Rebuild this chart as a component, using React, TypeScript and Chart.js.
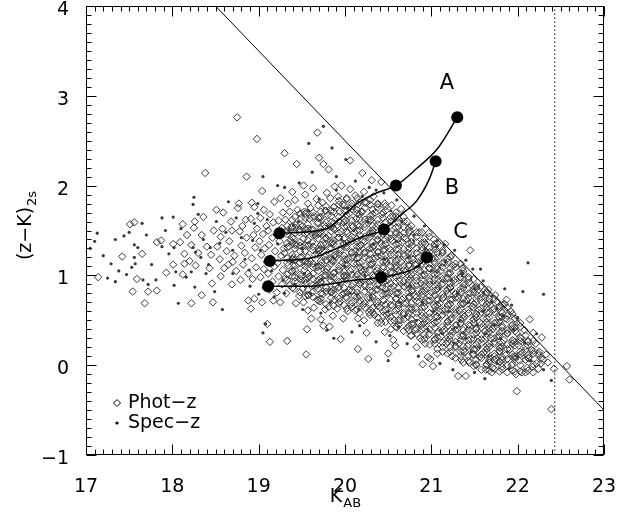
import { useEffect, useRef } from 'react';
import { Chart, registerables } from 'chart.js';
Chart.register(...registerables);

const xTicks = [17, 18, 19, 20, 21, 22, 23];
const yTicks = [-1, 0, 1, 2, 3, 4];

const photZ: [number, number][] = [
  [17.14,0.98],[17.42,1.21],[17.51,1.57],[17.56,1.59],[17.54,0.82],[17.59,0.96],[17.65,1.24],[17.68,0.69],[17.72,0.82],[17.82,0.83],
  [17.82,1.37],[17.87,1.39],[17.93,1.03],[18.01,1.12],[18.01,1.35],[18.09,1.37],[18.12,1.57],[18.12,1.01],[18.14,1.24],[18.14,1.13],
  [18.17,1.45],[18.22,1.34],[18.22,0.69],[18.25,1.53],[18.26,1.60],[18.27,1.11],[18.34,1.45],[18.34,0.78],[18.36,1.65],[18.38,2.14],
  [18.45,1.23],[18.46,0.91],[18.47,0.70],[18.51,1.73],[18.56,1.43],[18.56,0.99],[18.58,1.52],[18.59,1.70],[18.68,1.60],[18.69,1.50],
  [18.69,0.90],[18.75,2.76],[18.76,1.75],[18.77,1.80],[18.78,1.49],[18.79,0.95],[18.86,2.10],[18.88,0.72],[18.52,1.32],[18.55,1.18],
  [18.60,1.08],[18.63,1.27],[18.66,1.38],[18.70,1.15],[18.72,1.22],[18.74,1.05],[18.80,1.33],[18.82,1.12],[18.84,1.25],[18.86,1.42],
  [18.88,1.02],[18.40,1.32],[18.43,1.08],[18.30,1.25],[18.48,1.50],[18.20,1.16],[18.85,1.62],[18.81,1.55],[18.65,1.12],
  [18.91,0.63],[18.95,0.74],[18.93,0.96],[18.97,1.09],[18.92,1.19],[18.96,1.31],[18.94,1.45],[18.98,1.52],[18.91,1.63],[18.95,1.76],[18.92,1.81],
  [19.04,0.70],[19.08,0.86],[19.02,0.98],[19.06,1.07],[19.09,1.15],[19.03,1.23],[19.07,1.30],[19.01,1.38],[19.05,1.46],[19.09,1.55],[19.02,1.64],[19.06,1.73],[19.04,1.94],[18.98,2.52],
  [19.10,0.46],[19.13,0.26],[19.17,0.72],[19.12,0.84],[19.16,0.93],[19.11,1.02],[19.18,1.10],[19.14,1.19],[19.19,1.27],[19.12,1.34],[19.16,1.42],[19.11,1.50],[19.17,1.59],[19.13,1.68],[19.18,1.82],
  [19.25,0.70],[19.21,0.81],[19.27,0.90],[19.23,0.99],[19.28,1.06],[19.22,1.14],[19.26,1.22],[19.29,1.30],[19.24,1.38],[19.21,1.45],[19.27,1.53],[19.23,1.61],[19.28,1.70],[19.25,1.86],
  [19.33,0.27],[19.32,0.80],[19.36,0.89],[19.31,0.97],[19.38,1.04],[19.34,1.11],[19.39,1.18],[19.30,1.25],[19.35,1.32],[19.37,1.39],[19.33,1.46],[19.38,1.54],[19.31,1.62],[19.36,1.71],[19.34,1.80],[19.39,1.93],[19.30,2.36],
  [19.43,0.69],[19.47,0.77],[19.41,0.85],[19.45,0.92],[19.49,0.99],[19.42,1.06],[19.46,1.13],[19.40,1.20],[19.48,1.27],[19.44,1.34],[19.41,1.41],[19.47,1.48],[19.43,1.56],[19.49,1.64],[19.45,1.73],[19.42,1.84],[19.44,2.24],
  [19.55,0.12],[19.56,0.40],[19.57,0.61],[19.52,0.70],[19.58,0.78],[19.51,0.85],[19.55,0.92],[19.59,0.99],[19.53,1.06],[19.57,1.13],[19.50,1.20],[19.54,1.27],[19.58,1.34],[19.52,1.41],[19.56,1.48],[19.51,1.55],[19.59,1.63],[19.53,1.71],[19.57,1.80],[19.54,1.90],[19.52,2.00],
  [19.61,0.52],[19.64,0.64],[19.68,0.73],[19.62,0.81],[19.66,0.88],[19.69,0.95],[19.63,1.02],[19.67,1.09],[19.60,1.16],[19.65,1.23],[19.69,1.30],[19.62,1.37],[19.66,1.44],[19.61,1.51],[19.68,1.58],[19.64,1.66],[19.60,1.75],[19.67,1.85],[19.63,1.97],[19.68,2.59],
  [19.75,0.44],[19.72,0.51],[19.77,0.62],[19.71,0.71],[19.74,0.79],[19.78,0.86],[19.72,0.93],[19.76,1.00],[19.79,1.07],[19.73,1.14],[19.77,1.21],[19.70,1.28],[19.75,1.35],[19.78,1.42],[19.72,1.49],[19.76,1.56],[19.71,1.64],[19.77,1.72],[19.74,1.81],[19.79,1.92],[19.75,2.24],[19.70,2.31],
  [19.82,0.43],[19.86,0.55],[19.81,0.65],[19.88,0.73],[19.84,0.81],[19.89,0.88],[19.83,0.95],[19.87,1.02],[19.80,1.09],[19.85,1.16],[19.89,1.23],[19.82,1.30],[19.86,1.37],[19.81,1.44],[19.88,1.51],[19.84,1.59],[19.80,1.67],[19.87,1.76],[19.83,1.86],[19.88,1.99],[19.81,2.18],
  [19.95,0.29],[19.98,0.52],[19.91,0.63],[19.94,0.71],[19.97,0.79],[19.92,0.86],[19.96,0.93],[19.99,1.00],[19.93,1.07],[19.97,1.14],[19.90,1.21],[19.95,1.28],[19.98,1.35],[19.92,1.42],[19.96,1.49],[19.91,1.56],[19.99,1.63],[19.94,1.71],[19.97,1.79],[19.92,1.88],[19.96,2.00],
  [20.03,0.60],[20.07,0.68],[20.01,0.76],[20.05,0.84],[20.09,0.91],[20.02,0.98],[20.06,1.05],[20.00,1.12],[20.04,1.19],[20.08,1.26],[20.02,1.33],[20.07,1.40],[20.03,1.47],[20.09,1.54],[20.01,1.61],[20.05,1.69],[20.08,1.77],[20.02,1.86],[20.06,1.96],[20.06,2.28],
  [20.15,0.18],[20.15,0.52],[20.12,0.61],[20.17,0.69],[20.11,0.77],[20.14,0.85],[20.18,0.92],[20.13,0.99],[20.19,1.06],[20.10,1.13],[20.16,1.20],[20.12,1.27],[20.18,1.34],[20.14,1.41],[20.11,1.48],[20.17,1.55],[20.13,1.63],[20.19,1.71],[20.15,1.79],[20.12,1.89],
  [20.27,0.07],[20.25,0.36],[20.22,0.50],[20.28,0.59],[20.21,0.67],[20.26,0.75],[20.29,0.83],[20.23,0.90],[20.27,0.97],[20.20,1.04],[20.24,1.11],[20.28,1.18],[20.22,1.25],[20.26,1.32],[20.21,1.39],[20.29,1.46],[20.23,1.54],[20.27,1.62],[20.20,1.71],[20.25,1.81],[20.22,1.93],[20.20,2.14],
  [20.38,0.47],[20.30,0.61],[20.34,0.56],[20.37,0.69],[20.32,0.76],[20.36,0.84],[20.39,0.91],[20.33,0.98],[20.37,1.05],[20.31,1.12],[20.35,1.19],[20.39,1.26],[20.33,1.33],[20.38,1.40],[20.32,1.47],[20.36,1.54],[20.30,1.62],[20.35,1.70],[20.38,1.79],[20.33,1.88],[20.31,2.06],
  [20.46,0.37],[20.42,0.47],[20.48,0.56],[20.41,0.64],[20.45,0.72],[20.49,0.80],[20.43,0.87],[20.47,0.94],[20.40,1.01],[20.44,1.08],[20.48,1.15],[20.42,1.22],[20.46,1.29],[20.41,1.36],[20.49,1.43],[20.44,1.51],[20.47,1.59],[20.43,1.68],[20.46,1.80],[20.42,2.04],
  [20.50,0.13],[20.56,0.28],[20.58,0.22],[20.53,0.40],[20.57,0.50],[20.51,0.58],[20.55,0.66],[20.59,0.74],[20.52,0.81],[20.56,0.88],[20.50,0.95],[20.54,1.02],[20.58,1.09],[20.53,1.16],[20.57,1.23],[20.51,1.30],[20.55,1.38],[20.59,1.46],[20.52,1.55],[20.56,1.66],[20.54,1.78],
  [20.60,0.42],[20.64,0.50],[20.68,0.58],[20.62,0.66],[20.66,0.73],[20.61,0.80],[20.69,0.87],[20.63,0.94],[20.67,1.01],[20.60,1.08],[20.65,1.15],[20.69,1.22],[20.62,1.29],[20.66,1.37],[20.63,1.45],[20.68,1.54],[20.61,1.64],[20.65,1.74],
  [20.72,0.41],[20.76,0.33],[20.79,0.46],[20.73,0.54],[20.77,0.62],[20.71,0.69],[20.75,0.76],[20.78,0.83],[20.72,0.90],[20.76,0.97],[20.70,1.04],[20.74,1.11],[20.79,1.18],[20.73,1.25],[20.77,1.33],[20.71,1.41],[20.75,1.50],[20.72,1.60],
  [20.83,0.20],[20.87,0.30],[20.81,0.39],[20.85,0.47],[20.89,0.55],[20.82,0.63],[20.86,0.70],[20.80,0.77],[20.84,0.84],[20.88,0.91],[20.82,0.98],[20.87,1.05],[20.81,1.12],[20.85,1.20],[20.89,1.28],[20.83,1.37],[20.86,1.48],
  [20.90,0.01],[20.96,0.09],[20.99,0.07],[20.93,0.24],[20.97,0.34],[20.91,0.42],[20.95,0.50],[20.98,0.58],[20.92,0.65],[20.96,0.72],[20.90,0.79],[20.94,0.86],[20.98,0.93],[20.92,1.00],[20.97,1.08],[20.91,1.16],[20.95,1.25],[20.93,1.35],[20.97,1.47],
  [21.02,-0.01],[21.07,0.13],[21.04,0.28],[21.08,0.37],[21.01,0.45],[21.05,0.53],[21.09,0.60],[21.03,0.67],[21.07,0.74],[21.00,0.81],[21.04,0.88],[21.08,0.95],[21.02,1.02],[21.06,1.10],[21.01,1.19],[21.05,1.29],[21.03,1.40],
  [21.13,0.15],[21.17,0.24],[21.11,0.32],[21.15,0.40],[21.19,0.48],[21.12,0.55],[21.16,0.62],[21.10,0.69],[21.14,0.76],[21.18,0.83],[21.12,0.90],[21.17,0.97],[21.11,1.05],[21.15,1.14],[21.13,1.25],[21.16,1.35],
  [21.24,0.10],[21.28,0.20],[21.21,0.29],[21.25,0.37],[21.29,0.45],[21.23,0.52],[21.27,0.59],[21.20,0.66],[21.24,0.73],[21.28,0.80],[21.22,0.87],[21.26,0.94],[21.21,1.02],[21.25,1.11],[21.23,1.22],
  [21.31,-0.12],[21.35,0.06],[21.39,0.15],[21.32,0.24],[21.36,0.32],[21.30,0.40],[21.34,0.47],[21.38,0.54],[21.32,0.61],[21.37,0.68],[21.31,0.75],[21.35,0.82],[21.39,0.90],[21.33,0.98],[21.36,1.08],
  [21.40,-0.12],[21.44,0.03],[21.48,0.12],[21.42,0.21],[21.46,0.29],[21.41,0.37],[21.45,0.44],[21.49,0.51],[21.43,0.58],[21.47,0.65],[21.41,0.72],[21.45,0.80],[21.48,0.88],[21.43,0.98],[21.45,1.28],
  [21.52,0.00],[21.56,0.09],[21.50,0.18],[21.54,0.26],[21.58,0.34],[21.52,0.41],[21.56,0.48],[21.51,0.55],[21.55,0.62],[21.59,0.70],[21.53,0.78],[21.57,0.87],
  [21.63,-0.05],[21.67,0.05],[21.61,0.14],[21.65,0.22],[21.69,0.30],[21.62,0.38],[21.66,0.45],[21.60,0.52],[21.64,0.59],[21.68,0.67],[21.62,0.76],[21.66,0.84],
  [21.70,-0.08],[21.71,-0.03],[21.75,0.07],[21.79,0.16],[21.73,0.24],[21.77,0.32],[21.71,0.40],[21.75,0.47],[21.78,0.54],[21.72,0.62],[21.76,0.71],[21.74,0.78],
  [21.82,0.02],[21.86,0.11],[21.80,0.20],[21.84,0.28],[21.88,0.36],[21.82,0.44],[21.86,0.52],[21.81,0.60],[21.85,0.68],[21.87,0.73],
  [21.98,-0.10],[21.93,0.00],[21.97,0.09],[21.91,0.18],[21.95,0.27],[21.99,0.36],[21.93,0.44],[21.97,0.52],[21.92,0.60],
  [21.99,-0.29],[22.05,-0.08],[22.02,0.05],[22.06,0.14],[22.01,0.22],[22.04,0.30],[22.08,0.39],[22.03,0.47],
  [22.11,-0.03],[22.17,-0.02],[22.13,0.08],[22.16,0.17],[22.12,0.27],[22.18,0.36],[22.14,0.51],
  [22.22,0.02],[22.29,0.06],[22.25,0.15],[22.21,0.24],[22.28,0.31],
  [22.35,0.03],[22.33,0.12],[22.42,-0.04],[22.39,-0.49],[22.57,-0.01],[22.60,-0.16]
];

// dense core of the Phot-z cloud, read column by column: [K, list of colours]
const photCore: [number, number[]][] = [
  [19.33,[0.95,1.01,1.14,1.19,1.31,1.36,1.49,1.55]],
  [19.39,[0.86,0.99,1.05,1.18,1.23,1.36,1.42,1.54,1.62]],
  [19.42,[0.93,0.98,1.11,1.17,1.30,1.34,1.47,1.53,1.65]],
  [19.48,[0.81,0.96,1.01,1.14,1.20,1.33,1.37,1.51,1.56,1.69]],
  [19.54,[0.77,0.90,0.95,1.10,1.15,1.27,1.33,1.46,1.51,1.64,1.69]],
  [19.57,[0.78,0.84,0.97,1.02,1.15,1.20,1.33,1.39,1.52,1.57,1.70]],
  [19.63,[0.76,0.89,0.96,1.09,1.13,1.28,1.32,1.45,1.51,1.64,1.70]],
  [19.69,[0.72,0.85,0.90,1.05,1.10,1.23,1.27,1.41,1.46,1.59,1.64,1.78]],
  [19.72,[0.74,0.80,0.92,0.97,1.11,1.16,1.29,1.34,1.47,1.52,1.65,1.71]],
  [19.78,[0.68,0.82,0.87,1.00,1.04,1.17,1.23,1.35,1.41,1.54,1.59,1.72,1.77]],
  [19.84,[0.75,0.82,0.94,0.99,1.13,1.18,1.30,1.36,1.49,1.54,1.66,1.72]],
  [19.87,[0.66,0.80,0.84,0.98,1.03,1.16,1.22,1.35,1.39,1.52,1.58,1.71,1.76]],
  [19.93,[0.69,0.74,0.87,0.93,1.05,1.10,1.24,1.29,1.42,1.47,1.60,1.65,1.79,1.83]],
  [19.99,[0.67,0.80,0.86,0.99,1.04,1.18,1.22,1.35,1.41,1.54,1.59,1.72,1.78]],
  [20.02,[0.63,0.75,0.81,0.95,1.00,1.12,1.18,1.31,1.36,1.49,1.55,1.67,1.72,1.85]],
  [20.08,[0.65,0.70,0.83,0.88,1.01,1.07,1.20,1.25,1.38,1.43,1.56,1.61,1.74,1.80]],
  [20.14,[0.62,0.76,0.81,0.95,1.01,1.13,1.19,1.32,1.37,1.50,1.56,1.69,1.73,1.86]],
  [20.17,[0.58,0.72,0.77,0.90,0.95,1.09,1.14,1.26,1.32,1.45,1.50,1.63,1.68,1.82]],
  [20.23,[0.64,0.69,0.82,0.88,1.01,1.06,1.20,1.25,1.38,1.43,1.57,1.62,1.75,1.81]],
  [20.29,[0.56,0.69,0.75,0.88,0.93,1.06,1.12,1.24,1.30,1.43,1.48,1.61,1.66,1.79,1.84]],
  [20.32,[0.59,0.64,0.76,0.82,0.95,1.00,1.14,1.19,1.31,1.37,1.50,1.55,1.68,1.73]],
  [20.38,[0.53,0.66,0.71,0.84,0.89,1.02,1.08,1.21,1.26,1.39,1.44,1.57,1.62,1.76,1.80]],
  [20.44,[0.55,0.60,0.73,0.78,0.92,0.97,1.10,1.15,1.28,1.33,1.46,1.51,1.64,1.70]],
  [20.47,[0.48,0.62,0.67,0.80,0.85,0.99,1.03,1.17,1.22,1.35,1.40,1.53,1.59,1.72,1.77]],
  [20.53,[0.49,0.54,0.67,0.73,0.86,0.91,1.04,1.10,1.23,1.28,1.41,1.46,1.60,1.65]],
  [20.59,[0.43,0.56,0.61,0.74,0.80,0.93,0.98,1.11,1.16,1.29,1.35,1.48,1.53,1.66,1.70]],
  [20.62,[0.45,0.50,0.63,0.68,0.81,0.86,1.00,1.05,1.18,1.23,1.36,1.41,1.54,1.59]],
  [20.68,[0.38,0.51,0.56,0.69,0.75,0.88,0.93,1.06,1.11,1.24,1.29,1.42,1.47,1.60,1.65]],
  [20.74,[0.39,0.44,0.58,0.63,0.76,0.81,0.94,0.99,1.12,1.17,1.30,1.35,1.48,1.53]],
  [20.77,[0.33,0.46,0.51,0.64,0.69,0.83,0.88,1.01,1.06,1.19,1.24,1.37,1.42,1.55]],
  [20.83,[0.35,0.40,0.53,0.58,0.71,0.76,0.89,0.94,1.07,1.12,1.25,1.30,1.43,1.48]],
  [20.89,[0.28,0.40,0.45,0.59,0.64,0.77,0.82,0.95,1.00,1.13,1.18,1.31,1.36,1.48]],
  [20.92,[0.29,0.34,0.47,0.52,0.65,0.70,0.83,0.88,1.01,1.06,1.19,1.24,1.37,1.41]],
  [20.98,[0.23,0.35,0.40,0.53,0.58,0.72,0.77,0.90,0.95,1.08,1.13,1.26,1.31,1.43]],
  [21.04,[0.24,0.29,0.42,0.47,0.60,0.65,0.78,0.83,0.96,1.01,1.14,1.19,1.32,1.35]],
  [21.07,[0.18,0.31,0.36,0.49,0.54,0.67,0.72,0.85,0.90,1.02,1.07,1.20,1.25,1.36]],
  [21.13,[0.20,0.25,0.38,0.43,0.56,0.61,0.74,0.79,0.91,0.96,1.09,1.14,1.26,1.28]],
  [21.19,[0.13,0.26,0.31,0.44,0.49,0.62,0.67,0.80,0.85,0.97,1.02,1.15,1.19]],
  [21.22,[0.15,0.20,0.33,0.38,0.51,0.56,0.68,0.73,0.86,0.91,1.03,1.08,1.20]],
  [21.28,[0.08,0.21,0.26,0.39,0.44,0.57,0.62,0.75,0.79,0.92,0.96,1.09,1.13]],
  [21.34,[0.10,0.15,0.28,0.33,0.46,0.51,0.63,0.68,0.81,0.85,0.98,1.02,1.13]],
  [21.37,[0.03,0.16,0.21,0.34,0.39,0.52,0.56,0.69,0.74,0.86,0.91,1.02,1.05]],
  [21.43,[0.05,0.10,0.23,0.28,0.40,0.45,0.58,0.62,0.75,0.80,0.92,0.96]],
  [21.49,[-0.01,0.12,0.17,0.29,0.34,0.47,0.51,0.64,0.68,0.81,0.85,0.96]],
  [21.52,[0.01,0.06,0.18,0.23,0.36,0.40,0.53,0.57,0.70,0.74,0.86,0.88]],
  [21.58,[-0.05,0.08,0.12,0.25,0.29,0.42,0.46,0.59,0.63,0.75,0.79,0.88]],
  [21.64,[0.00,0.01,0.14,0.18,0.31,0.35,0.48,0.52,0.64,0.68,0.80,0.81]],
  [21.67,[-0.06,0.03,0.08,0.20,0.24,0.37,0.41,0.53,0.58,0.70,0.74]],
  [21.73,[-0.04,0.06,0.10,0.13,0.26,0.30,0.43,0.47,0.59,0.63,0.74]],
  [21.79,[-0.07,0.04,0.04,0.15,0.19,0.32,0.36,0.48,0.53,0.64,0.66]],
  [21.82,[-0.05,-0.02,0.06,0.09,0.21,0.25,0.38,0.42,0.54,0.58,0.67]],
  [21.88,[-0.08,0.00,0.07,0.18,0.23,0.35,0.39,0.51,0.55,0.64]],
  [21.94,[-0.06,0.01,0.09,0.12,0.24,0.28,0.41,0.45,0.57]],
  [21.97,[-0.07,0.07,0.10,0.22,0.26,0.38,0.42,0.52]],
  [22.03,[-0.07,0.00,0.12,0.15,0.27,0.31,0.43]],
  [22.09,[-0.08,0.06,0.06,0.17,0.21,0.33]],
  [22.12,[-0.06,0.08,0.11,0.22,0.26]],
  [22.18,[-0.08,0.01,0.13,0.16,0.27]],
  [22.24,[-0.04,0.11,0.13]],
  [22.27,[0.02,0.08]]
];

const specZ: [number, number][] = [
  [17.05,1.30],[17.13,1.47],[17.29,1.13],[17.34,1.40],[17.50,1.48],[17.56,1.34],[17.56,1.20],[17.53,1.09],[17.57,1.13],[17.47,1.01],
  [17.25,0.97],[17.34,0.93],[17.66,0.95],[17.72,0.90],[17.81,0.95],[17.65,1.58],[17.60,1.31],[17.88,1.64],[17.92,1.50],[17.88,1.32],
  [17.96,1.24],[18.01,1.65],[18.02,1.31],[18.02,0.89],[18.04,1.04],[18.07,0.69],[18.22,1.04],[18.24,1.79],[18.25,1.87],[18.24,1.31],
  [18.26,0.87],[18.27,1.26],[18.33,1.20],[18.39,1.02],[18.44,1.31],[18.49,0.82],[18.51,1.60],[18.58,0.62],[18.65,1.82],[18.70,1.28],
  [18.70,1.02],[18.80,1.42],[18.89,1.06],[18.93,1.39],[18.99,1.69],[18.99,1.80],[19.00,0.79],[19.05,2.10],[19.05,0.36],[19.08,0.46],
  [19.30,0.80],[19.51,0.62],[19.72,0.58],[19.79,0.39],[19.87,0.30],[20.08,0.37],[20.17,0.44],[20.36,0.26],[20.72,0.24],[20.52,0.33],
  [20.62,0.43],[19.75,2.66],[19.58,2.47],[19.85,2.42],[20.01,2.29],[19.22,2.00],[19.47,2.03],[19.30,1.98],[19.62,2.15],[19.90,2.10],
  [20.12,2.05],[20.28,1.98],[20.45,1.92],[20.60,1.84],[20.80,1.66],[20.92,1.55],[21.15,1.34],[21.07,1.39],[21.27,1.28],[21.40,1.17],
  [21.48,1.07],[21.57,1.07],[21.60,0.94],[21.60,0.81],[21.70,0.77],[21.76,0.63],[21.93,0.67],[22.00,0.53],[22.12,1.14],[22.06,0.82],
  [22.30,0.79],[21.85,0.85],[22.39,-0.17],[21.90,-0.04],[21.76,0.02],[20.50,0.05],[20.85,0.10],[21.10,0.02],[21.25,-0.05],[21.50,-0.08],
  [21.62,-0.15],[19.15,1.05],[19.22,1.35],[19.28,0.95],[19.35,1.50],[19.38,1.15],[19.42,0.90],[19.46,1.60],[19.50,1.30],[19.53,1.02],
  [19.58,1.72],[19.60,0.80],[19.63,1.45],[19.66,1.12],[19.70,1.85],[19.73,0.96],[19.76,1.30],[19.80,1.55],[19.83,0.70],[19.86,1.20],
  [19.90,1.95],[19.93,0.90],[19.96,1.40],[20.00,1.10],[20.03,1.75],[20.06,0.80],[20.10,1.50],[20.13,1.22],[20.16,0.62],[20.20,1.88],
  [20.23,1.00],[20.26,1.60],[20.30,0.75],[20.33,1.35],[20.36,1.95],[20.40,0.92],[20.43,1.55],[20.46,1.18],[20.50,0.60],[20.53,1.72],
  [20.56,1.00],[20.60,1.38],[20.63,0.70],[20.66,1.60],[20.70,0.55],[20.73,1.20],[20.76,0.88],[20.80,1.45],[20.83,0.50],[20.86,1.10],
  [20.90,0.70],[20.93,1.30],[20.96,0.40],[21.00,1.05],[21.03,0.60],[21.06,1.32],[21.10,0.85],[21.13,0.35],[21.16,1.15],[21.20,0.60],
  [21.23,0.95],[21.26,0.25],[21.30,0.80],[21.33,0.50],[21.36,1.02],[21.40,0.30],[21.43,0.70],[21.46,0.15],[21.50,0.85],[21.53,0.45],
  [21.56,0.20],[21.60,0.60],[21.63,0.35],[21.66,0.10],[21.70,0.70],[21.73,0.45],[21.80,0.30],[21.83,0.55],[21.88,0.15],[21.95,0.40],
  [22.00,0.10],[22.08,0.25],[22.15,0.05],[22.22,0.35],[22.30,-0.05],
  [17.10,1.38],[17.20,1.22],[17.38,1.05],[17.44,1.44],[17.70,1.45],[17.76,1.12],[18.10,1.52],[18.16,0.98],[18.30,1.68],[18.36,1.40],
  [18.42,1.12],[18.55,1.36],[18.62,1.48],[18.74,1.64],[18.84,1.18],[18.90,0.88],[18.95,1.58],[19.02,1.28],[19.10,1.62],[19.18,0.76]
];

const trackA: [number, number][] = [[19.24,1.47],[19.79,1.52],[19.94,1.63],[20.14,1.80],[20.37,1.92],[20.59,2.00],[20.83,2.19],[21.07,2.41],[21.30,2.76]];
const trackB: [number, number][] = [[19.13,1.16],[19.63,1.20],[19.86,1.28],[20.17,1.42],[20.45,1.51],[20.64,1.67],[20.83,1.83],[20.98,2.08],[21.05,2.27]];
const trackC: [number, number][] = [[19.11,0.88],[19.60,0.88],[20.06,0.94],[20.42,0.98],[20.81,1.08],[20.95,1.20]];
const marksA = [0, 5, 8];
const marksB = [0, 4, 8];
const marksC = [0, 3, 5];

const cutLine: [number, number][] = [[18.5, 4], [23, -0.5]];
const limitLine: [number, number][] = [[22.43, -1], [22.43, 4]];

const trackNames = ['A', 'B', 'C'];
const trackNameX = [21.18, 21.24, 21.34];
const trackNameY = [3.14, 1.97, 1.48];

const legendLabels = ['Phot\u2212z', 'Spec\u2212z'];
const xTitle = ['K', 'AB'];
const yTitle = ['(z\u2212K)', '2s'];

const FONT = '"DejaVu Sans", sans-serif';
const GRAY = '#383838';

const toPts = (a: [number, number][]) => a.map(([x, y]) => ({ x, y }));
const corePts = photCore.flatMap(([x, ys]) => ys.map((y) => ({ x, y })));
const radii = (a: [number, number][], m: number[]) => a.map((_, i) => (m.includes(i) ? 6 : 0));
const fmt = (v: number) => (v < 0 ? '\u2212' + Math.abs(v) : String(v));

const decoPlugin = {
  id: 'deco',
  afterDraw(chart: any) {
    const { ctx, chartArea, scales } = chart;
    const { left, right, top, bottom } = chartArea;
    const xs = scales.x;
    const ys = scales.y;
    ctx.save();
    ctx.strokeStyle = '#000';
    ctx.lineWidth = 1;
    const L = Math.round(left) + 0.5, R = Math.round(right) - 0.5;
    const T = Math.round(top) + 0.5, B = Math.round(bottom) - 0.5;
    ctx.strokeRect(L, T, R - L, B - T);
    ctx.beginPath();
    for (let i = 0; i <= 60; i++) {
      const v = xTicks[0] + i / 10;
      const px = Math.round(xs.getPixelForValue(v)) + 0.5;
      const len = i % 10 === 0 ? 10 : 5;
      ctx.moveTo(px, B); ctx.lineTo(px, B - len);
      ctx.moveTo(px, T); ctx.lineTo(px, T + len);
    }
    for (let i = 0; i <= 50; i++) {
      const v = yTicks[0] + i / 10;
      const py = Math.round(ys.getPixelForValue(v)) + 0.5;
      const len = i % 10 === 0 ? 10 : 5;
      ctx.moveTo(L, py); ctx.lineTo(L + len, py);
      ctx.moveTo(R, py); ctx.lineTo(R - len, py);
    }
    ctx.stroke();

    ctx.fillStyle = '#000';
    ctx.textBaseline = 'middle';
    ctx.textAlign = 'center';
    ctx.font = `21px ${FONT}`;
    trackNames.forEach((t, i) => {
      ctx.fillText(t, xs.getPixelForValue(trackNameX[i]), ys.getPixelForValue(trackNameY[i]));
    });

    // legend
    ctx.textAlign = 'left';
    ctx.font = `19px ${FONT}`;
    const lx = left + 31;
    const ly1 = bottom - 52;
    const ly2 = bottom - 32;
    ctx.strokeStyle = '#000';
    ctx.beginPath();
    ctx.moveTo(lx - 3.5, ly1); ctx.lineTo(lx, ly1 - 3.5); ctx.lineTo(lx + 3.5, ly1); ctx.lineTo(lx, ly1 + 3.5); ctx.closePath();
    ctx.stroke();
    ctx.beginPath();
    ctx.arc(lx, ly2, 1.6, 0, Math.PI * 2);
    ctx.fill();
    ctx.fillText(legendLabels[0], lx + 11, ly1);
    ctx.fillText(legendLabels[1], lx + 11, ly2);

    // x title
    ctx.textBaseline = 'alphabetic';
    ctx.font = `19px ${FONT}`;
    const kW = ctx.measureText(xTitle[0]).width;
    ctx.font = `13px ${FONT}`;
    const sW = ctx.measureText(xTitle[1]).width;
    const cx = (left + right) / 2;
    const x0 = cx - (kW + sW) / 2;
    ctx.font = `19px ${FONT}`;
    ctx.fillText(xTitle[0], x0, 502);
    ctx.font = `13px ${FONT}`;
    ctx.fillText(xTitle[1], x0 + kW + 1, 507);

    // y title
    ctx.save();
    ctx.translate(31, 226);
    ctx.rotate(-Math.PI / 2);
    ctx.font = `19px ${FONT}`;
    const mW = ctx.measureText(yTitle[0]).width;
    ctx.font = `13px ${FONT}`;
    const s2W = ctx.measureText(yTitle[1]).width;
    const y0 = -(mW + s2W) / 2;
    ctx.font = `19px ${FONT}`;
    ctx.fillText(yTitle[0], y0, 0);
    ctx.font = `13px ${FONT}`;
    ctx.fillText(yTitle[1], y0 + mW + 1, 5);
    ctx.restore();

    ctx.restore();
  },
};

export default function App() {
  const ref = useRef<HTMLCanvasElement | null>(null);
  useEffect(() => {
    if (!ref.current) return;
    const lineDs = (data: [number, number][], marks: number[]) => ({
      data: toPts(data),
      showLine: true,
      borderColor: '#000',
      borderWidth: 1.5,
      backgroundColor: '#000',
      pointRadius: radii(data, marks),
      pointBorderWidth: 0,
      pointBackgroundColor: '#000',
      cubicInterpolationMode: 'monotone' as const,
    });
    const diamond = { pointStyle: 'rectRot', pointRadius: 3.7, pointBorderWidth: 1, borderColor: GRAY, backgroundColor: 'rgba(0,0,0,0)' };
    const chart = new Chart(ref.current, {
      type: 'scatter',
      data: {
        datasets: [
          lineDs(trackA, marksA),
          lineDs(trackB, marksB),
          lineDs(trackC, marksC),
          { data: toPts(cutLine), showLine: true, borderColor: '#000', borderWidth: 1, pointRadius: 0 },
          { data: toPts(limitLine), showLine: true, borderColor: '#000', borderWidth: 1, borderDash: [1.5, 2.5], pointRadius: 0 },
          { data: toPts(specZ), pointStyle: 'circle', pointRadius: 1.6, pointBorderWidth: 0, backgroundColor: GRAY, borderColor: GRAY },
          { data: toPts(photZ), ...diamond },
          { data: corePts, ...diamond },
        ] as any,
      },
      options: {
        animation: false,
        responsive: false,
        devicePixelRatio: 1,
        events: [],
        layout: { padding: { left: 0, top: 5, right: 18, bottom: 0 } },
        plugins: { legend: { display: false }, tooltip: { enabled: false } },
        scales: {
          x: {
            type: 'linear', min: 17, max: 23,
            grid: { display: false }, border: { display: false },
            ticks: { stepSize: 1, color: '#000', padding: 13, maxRotation: 0, font: { family: FONT, size: 19 }, callback: (v: any) => fmt(Number(v)) },
            afterFit: (s: any) => { s.height = 67; s.paddingLeft = 0; s.paddingRight = 0; },
          },
          y: {
            type: 'linear', min: -1, max: 4,
            grid: { display: false }, border: { display: false },
            ticks: { stepSize: 1, color: '#000', padding: 9, labelOffset: 4, font: { family: FONT, size: 19 }, callback: (v: any) => fmt(Number(v)) },
            afterFit: (s: any) => { s.width = 86; s.paddingTop = 0; s.paddingBottom = 0; },
          },
        },
      },
      plugins: [decoPlugin],
    });
    return () => chart.destroy();
  }, []);
  return (
    <div style={{ position: 'absolute', left: 0, top: 0, width: 622, height: 522, background: '#fff' }}>
      <canvas ref={ref} width={622} height={522} style={{ display: 'block' }} />
    </div>
  );
}
